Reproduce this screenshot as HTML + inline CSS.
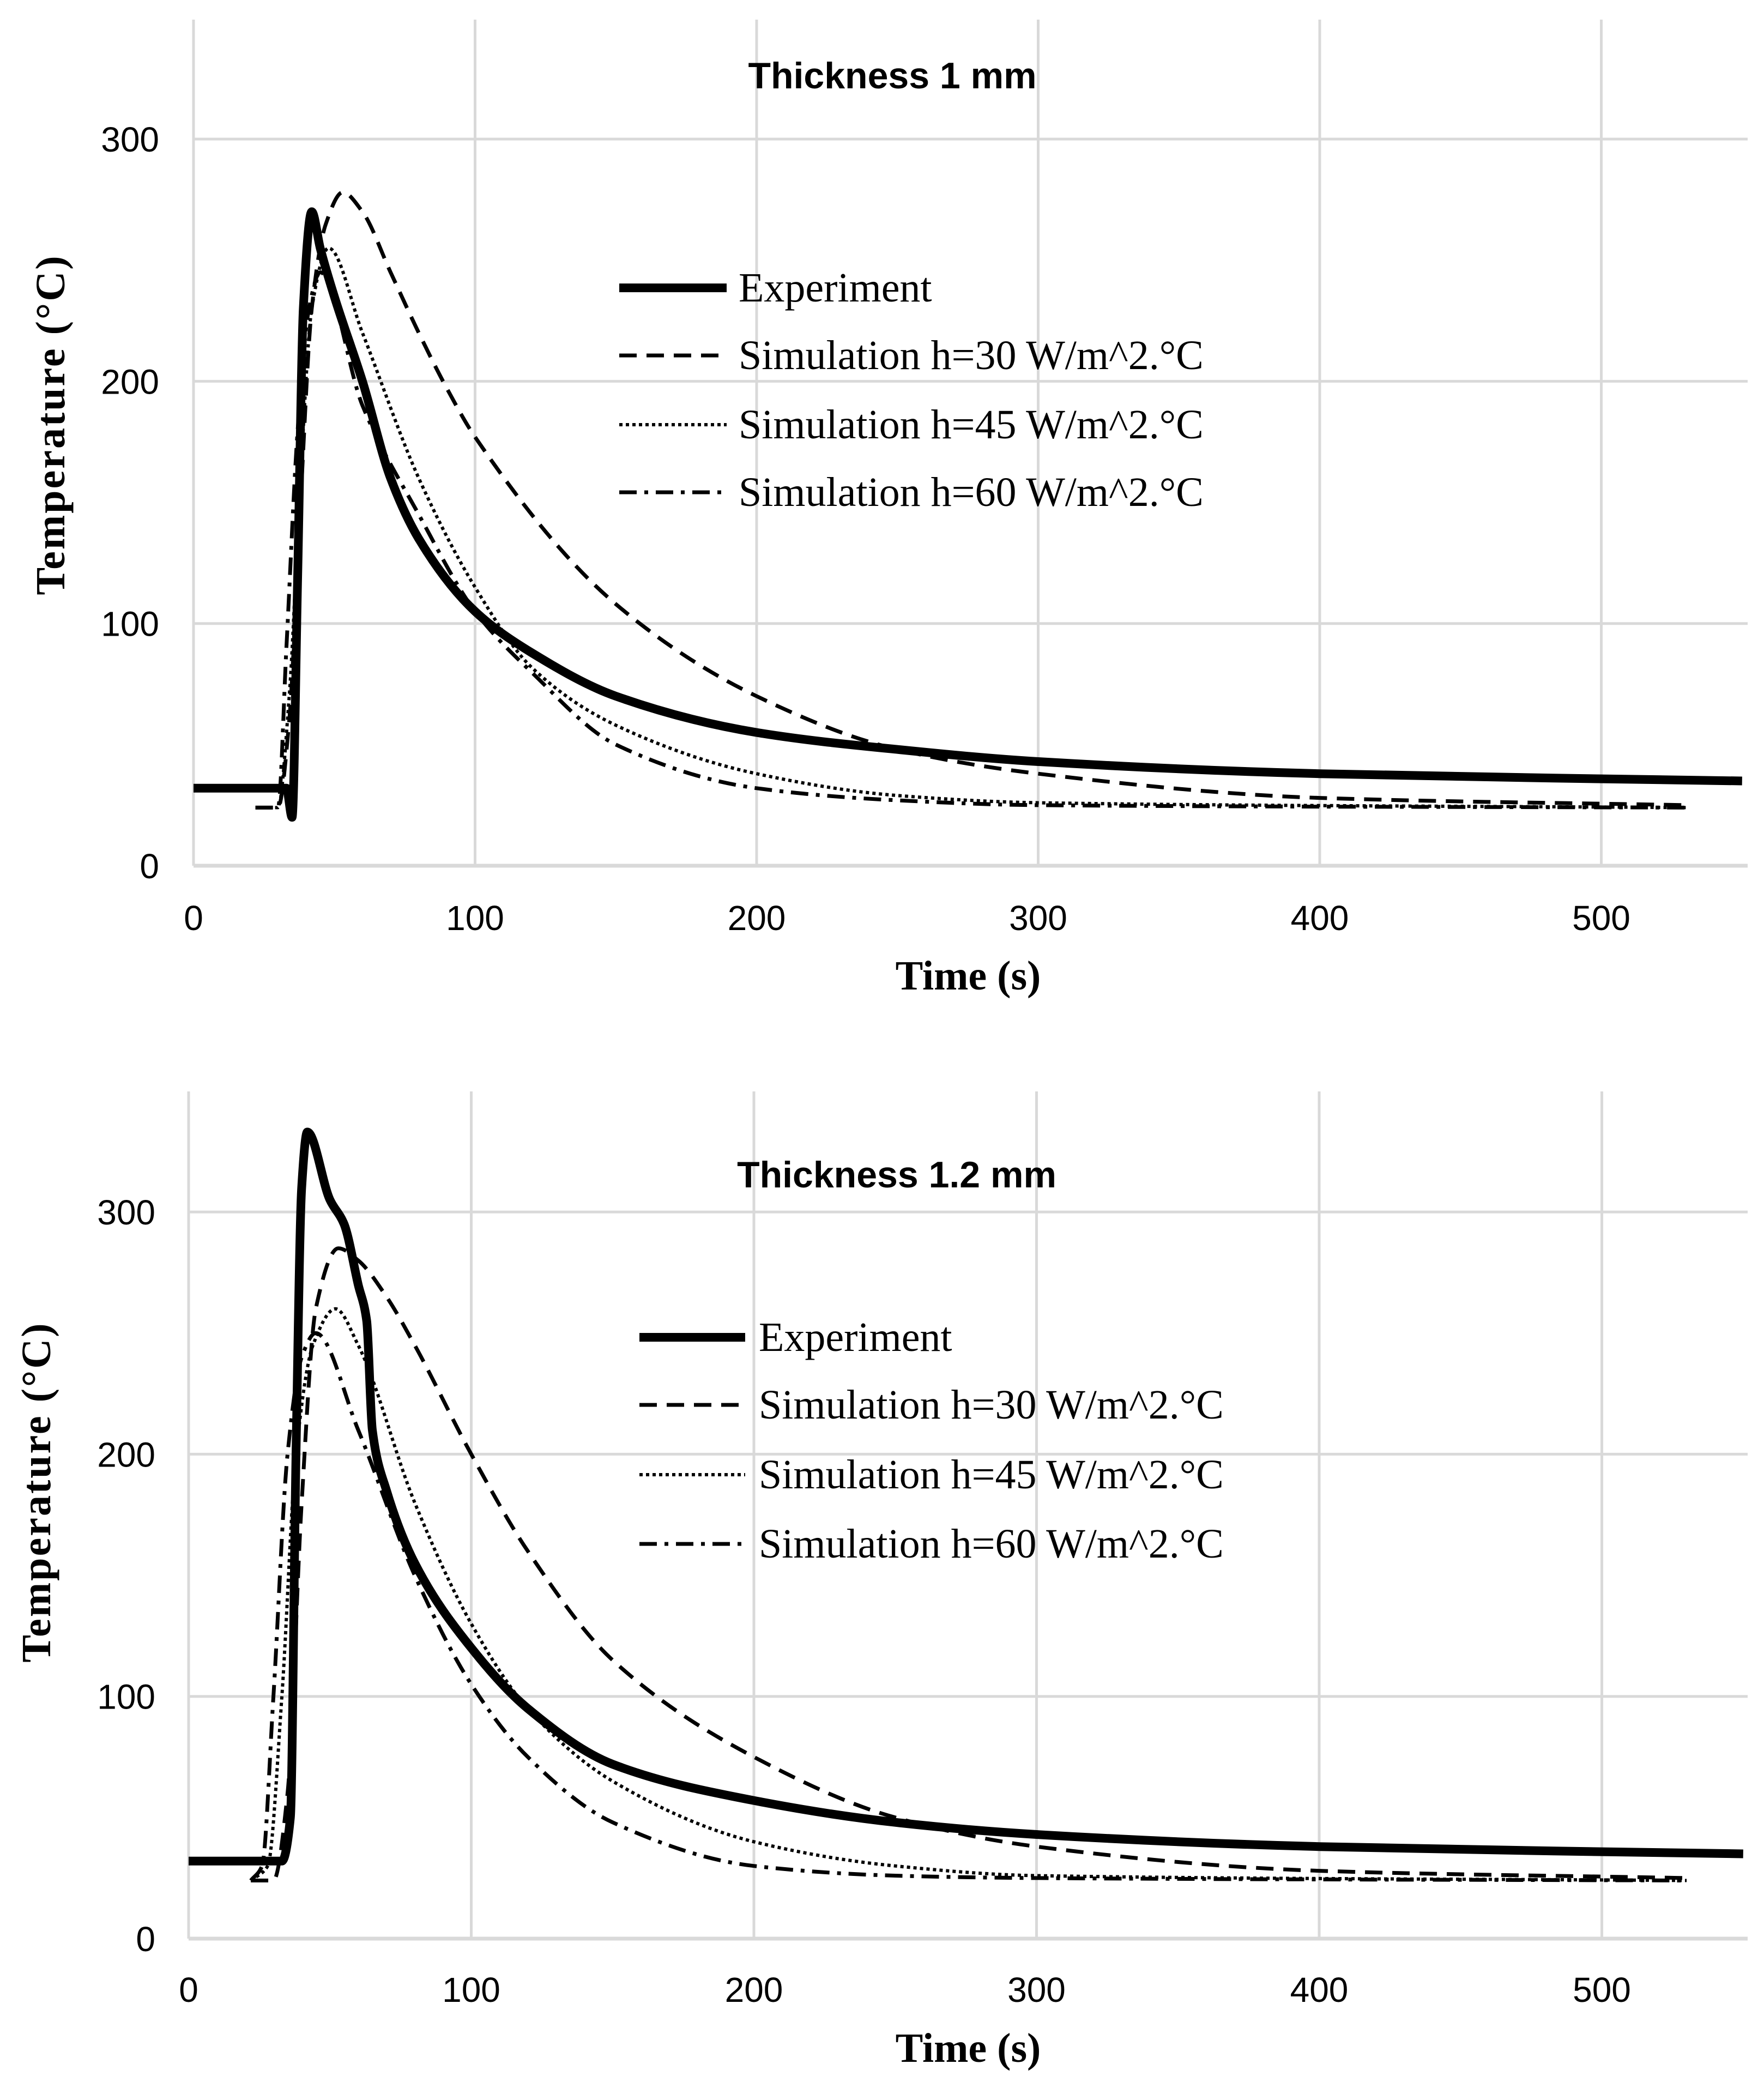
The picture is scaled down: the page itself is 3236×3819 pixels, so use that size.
<!DOCTYPE html>
<html><head><meta charset="utf-8">
<style>
html,body{margin:0;padding:0;background:#fff;}
svg{display:block;}
.tick{font-family:"Liberation Sans",sans-serif;font-size:64px;fill:#000;}
.leg{font-family:"Liberation Serif",serif;font-size:76px;fill:#000;}
.axt{font-family:"Liberation Serif",serif;font-size:76px;font-weight:bold;fill:#000;}
.ttl{font-family:"Liberation Sans",sans-serif;font-size:68px;font-weight:bold;fill:#000;}
</style></head>
<body>
<svg id="chart" width="3236" height="3819" viewBox="0 0 3236 3819" xmlns="http://www.w3.org/2000/svg"></svg>
<script>
const xTicks=[0,100,200,300,400,500];
const yTicks=[0,100,200,300];
const seriesNames=["Experiment","Simulation h=30 W/m^2.°C","Simulation h=45 W/m^2.°C","Simulation h=60 W/m^2.°C"];
// Chart 1: thickness 1 mm
const t1Exp=[0,33,35,37,39,42,45,50,60,70,80,100,120,150,200,250,300,400,550];
const v1Exp=[32,32,20,120,230,270,255,235,200,160,135,105,88,70,55,48,43,38,35];
const t1S30=[22,30,34,38,42,47,53,60,70,80,90,100,150,200,250,300,400,530];
const v1S30=[24,24,60,150,230,265,278,270,245,220,197,177,108,70,48,38,28,25];
const t1S45=[22,30,34,38,42,48,60,80,100,120,150,200,250,300,530];
const v1S45=[24,24,70,160,230,255,220,160,115,82,58,38,29,26,24];
const t1S60=[22,30,33,37,41,45,60,80,100,120,150,200,250,300,530];
const v1S60=[24,24,90,180,230,245,190,145,105,80,50,32,27,25,24];
// Chart 2: thickness 1.2 mm
const t2Exp=[0,33,36,38,40,42,50,55,60,63,65,70,80,100,120,150,200,250,300,400,550];
const v2Exp=[32,32,50,200,310,333,305,295,270,255,210,185,155,120,95,72,57,48,43,38,35];
const t2S30=[22,30,35,40,45,53,60,70,80,100,120,150,200,250,300,400,530];
const v2S30=[24,24,60,180,260,285,280,265,245,200,160,115,75,50,38,28,25];
const t2S45=[22,28,33,38,44,52,60,80,100,120,150,200,250,300,530];
const v2S45=[24,30,100,200,245,260,245,180,130,95,65,40,30,26,24];
const t2S60=[22,26,30,35,40,45,60,80,100,120,150,200,250,300,530];
const v2S60=[24,30,100,200,240,250,210,150,105,75,48,30,26,25,24];

const NS="http://www.w3.org/2000/svg";
const svg=document.getElementById('chart');
function mk(tag,attrs,parent){const e=document.createElementNS(NS,tag);for(const k in attrs)e.setAttribute(k,attrs[k]);(parent||svg).appendChild(e);return e;}

const styles=[
 {w:16,dash:null},
 {w:7,dash:"32 18"},
 {w:6,dash:"6 6"},
 {w:7,dash:"32 14 7 14"}
];

// monotone cubic (Fritsch-Carlson) path, no overshoot
function smoothPath(pts){
  const n=pts.length;
  const dx=[],dy=[],m=[];
  for(let i=0;i<n-1;i++){dx.push(pts[i+1][0]-pts[i][0]);dy.push(pts[i+1][1]-pts[i][1]);m.push(dy[i]/dx[i]);}
  const t=new Array(n);
  t[0]=m[0];t[n-1]=m[n-2];
  for(let i=1;i<n-1;i++){
    if(m[i-1]*m[i]<=0)t[i]=0;
    else{const w1=2*dx[i]+dx[i-1],w2=dx[i]+2*dx[i-1];t[i]=(w1+w2)/(w1/m[i-1]+w2/m[i]);}
  }
  let d="M"+pts[0][0].toFixed(1)+","+pts[0][1].toFixed(1);
  for(let i=0;i<n-1;i++){
    const h=dx[i]/3;
    d+=" C"+(pts[i][0]+h).toFixed(1)+","+(pts[i][1]+t[i]*h).toFixed(1)+" "+(pts[i+1][0]-h).toFixed(1)+","+(pts[i+1][1]-t[i+1]*h).toFixed(1)+" "+pts[i+1][0].toFixed(1)+","+pts[i+1][1].toFixed(1);
  }
  return d;
}

function drawChart(cfg){
  const g=mk('g',{});
  
  
  const X=v=>cfg.x0+v*cfg.px100/100;
  const Y=v=>cfg.y0-v*cfg.py100/100;
  const right=cfg.right, top=cfg.top;
  xTicks.forEach(t=>{
    const l=mk('line',{x1:X(t),x2:X(t),y1:top,y2:cfg.y0,stroke:'#d9d9d9','stroke-width':5},g);
    
    
    const tx=mk('text',{x:X(t),y:cfg.xLabY,'text-anchor':'middle',class:'tick'},g);
    
    
    tx.textContent=t;
  });
  yTicks.forEach(t=>{
    const l=mk('line',{x1:cfg.x0,x2:right,y1:Y(t),y2:Y(t),stroke:'#d9d9d9','stroke-width':t===0?7:5},g);
    
    
    const tx=mk('text',{x:cfg.yLabX,y:Y(t)+23,'text-anchor':'end',class:'tick'},g);
    
    
    tx.textContent=t;
  });
  const ttl=mk('text',{x:cfg.titleX,y:cfg.titleY,'text-anchor':'middle',class:'ttl'},g);
  
  
  ttl.textContent=cfg.title;
  const xt=mk('text',{x:cfg.xTitleX,y:cfg.xTitleY,'text-anchor':'middle',class:'axt'},g);
  
  
  xt.textContent="Time (s)";
  const yt=mk('text',{x:0,y:0,'text-anchor':'middle',class:'axt','letter-spacing':'3',transform:`translate(${cfg.yTitleX},${cfg.yTitleY}) rotate(-90)`},g);
  
  
  yt.textContent="Temperature (°C)";
  const order=[1,2,3,0];
  order.forEach(i=>{
    const s=cfg.series[i];
    const pts=s[0].map((t,k)=>[X(t),Y(s[1][k])]);
    const attrs={d:smoothPath(pts),fill:'none',stroke:'#000','stroke-width':styles[i].w,'stroke-linejoin':'round'};
    if(styles[i].dash)attrs['stroke-dasharray']=styles[i].dash;
    const p=mk('path',attrs,g);
    
    
  });
  seriesNames.forEach((n,i)=>{
    const y=cfg.legY[i];
    const la={x1:cfg.legX1,x2:cfg.legX2,y1:y,y2:y,stroke:'#000','stroke-width':styles[i].w};
    if(styles[i].dash)la['stroke-dasharray']=styles[i].dash;
    const l=mk('line',la,g);
    
    
    const tx=mk('text',{x:cfg.legTX,y:y+25,class:'leg'},g);
    
    
    tx.textContent=n;
  });
}

drawChart({name:'chart-thickness-1mm',title:'Thickness 1 mm',x0:355,px100:516.5,y0:1588,py100:444.3,right:3206,top:36,
  xLabY:1706,yLabX:292,titleX:1637,titleY:162,xTitleX:1776,xTitleY:1815,yTitleX:118,yTitleY:779,
  legX1:1136,legX2:1333,legTX:1355,legY:[528,652,779,903],
  series:[[t1Exp,v1Exp],[t1S30,v1S30],[t1S45,v1S45],[t1S60,v1S60]]});
drawChart({name:'chart-thickness-1-2mm',title:'Thickness 1.2 mm',x0:346,px100:518.5,y0:3556,py100:444.3,right:3206,top:2002,
  xLabY:3672,yLabX:285,titleX:1645,titleY:2178,xTitleX:1776,xTitleY:3782,yTitleX:92,yTitleY:2737,
  legX1:1173,legX2:1367,legTX:1392,legY:[2453,2577,2705,2832],
  series:[[t2Exp,v2Exp],[t2S30,v2S30],[t2S45,v2S45],[t2S60,v2S60]]});
</script>
</body></html>
